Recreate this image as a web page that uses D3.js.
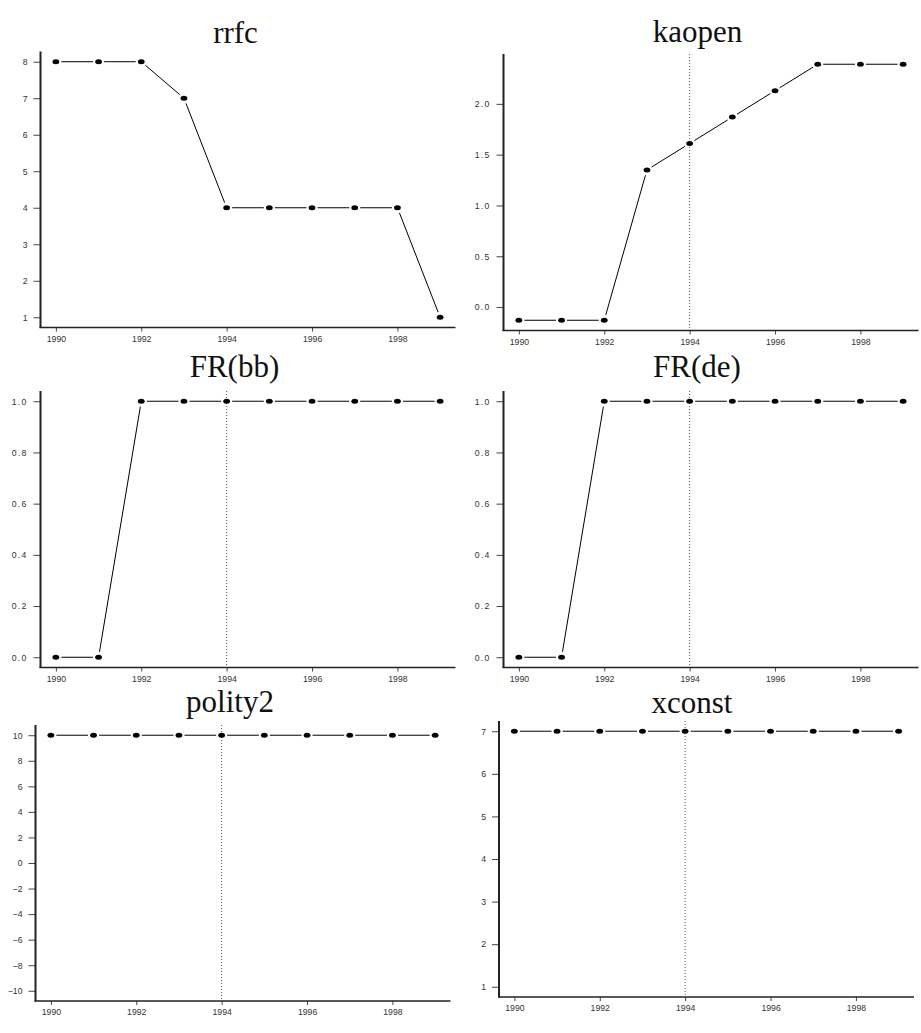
<!DOCTYPE html>
<html>
<head>
<meta charset="utf-8">
<script src="https://cdn.jsdelivr.net/npm/d3@7"></script>
<style>
  html, body { margin: 0; padding: 0; background: #fff; }
  svg { display: block; }
  .title { font-family: "Liberation Serif", "Times New Roman", serif; font-size: 31px; fill: #111; }
  .tick-label { font-family: "Liberation Sans", Arial, sans-serif; font-size: 8.7px; fill: #333; }
</style>
</head>
<body>
<svg id="chart" width="921" height="1033"></svg>
<script>
// Annual series, 1990–1999
const years = [1990, 1991, 1992, 1993, 1994, 1995, 1996, 1997, 1998, 1999];

const rrfc    = [8, 8, 8, 7, 4, 4, 4, 4, 4, 1];
const kaopen  = [-0.13, -0.13, -0.13, 1.35, 1.61, 1.87, 2.13, 2.39, 2.39, 2.39];
const frBB    = [0, 0, 1, 1, 1, 1, 1, 1, 1, 1];
const frDE    = [0, 0, 1, 1, 1, 1, 1, 1, 1, 1];
const polity2 = [10, 10, 10, 10, 10, 10, 10, 10, 10, 10];
const xconst  = [7, 7, 7, 7, 7, 7, 7, 7, 7, 7];

const titles = ["rrfc", "kaopen", "FR(bb)", "FR(de)", "polity2", "xconst"];
const seriesList = [rrfc, kaopen, frBB, frDE, polity2, xconst];

// y-axis limits for each panel
const yLimits = [[1, 8], [-0.13, 2.39], [0, 1], [0, 1], [-10, 10], [1, 7]];

// tick labels
const xTicks = [1990, 1992, 1994, 1996, 1998];
const yTicksList = [
  [1, 2, 3, 4, 5, 6, 7, 8],
  [0, 0.5, 1, 1.5, 2],
  [0, 0.2, 0.4, 0.6, 0.8, 1],
  [0, 0.2, 0.4, 0.6, 0.8, 1],
  [-10, -8, -6, -4, -2, 0, 2, 4, 6, 8, 10],
  [1, 2, 3, 4, 5, 6, 7]
];
const yFormats = ["d", ".1f", ".1f", ".1f", "d", "d"];

// reference year marked by a dotted vertical line (null = none)
const markerYears = [null, 1994, 1994, 1994, 1994, 1994];

// plot regions: [left, top, right, bottom] and title anchor [cx, baseline]
const layout = [
  { box: [40.5, 51.5, 455.5, 327.5], title: [235.5, 43] },
  { box: [503.5, 54, 918.5, 330.5], title: [697.5, 41.5] },
  { box: [40.5, 391, 455.5, 667.5], title: [234.5, 376.5] },
  { box: [503.5, 391, 918.5, 667.5], title: [697, 376.5] },
  { box: [35.5, 725, 450.5, 1001], title: [230, 711.5] },
  { box: [499, 721, 914, 997], title: [692, 712.5] }
];

const svg = d3.select("#chart");
const PAD = 0.04;   // axis range padding fraction
const GAP = 5.5;    // space left between line segments and point markers

seriesList.forEach((values, i) => {
  const [left, top, right, bottom] = layout[i].box;
  const xExt = d3.extent(years);
  const xPad = (xExt[1] - xExt[0]) * PAD;
  const [y0, y1] = yLimits[i];
  const yPad = (y1 - y0) * PAD;

  const x = d3.scaleLinear().domain([xExt[0] - xPad, xExt[1] + xPad]).range([left, right]);
  const y = d3.scaleLinear().domain([y0 - yPad, y1 + yPad]).range([bottom, top]);

  const g = svg.append("g");

  // title
  g.append("text")
    .attr("class", "title")
    .attr("x", layout[i].title[0])
    .attr("y", layout[i].title[1])
    .attr("text-anchor", "middle")
    .text(titles[i]);

  // dotted reference line
  if (markerYears[i] !== null) {
    g.append("line")
      .attr("x1", x(markerYears[i])).attr("x2", x(markerYears[i]))
      .attr("y1", top).attr("y2", bottom)
      .attr("stroke", "#555").attr("stroke-width", 1)
      .attr("stroke-dasharray", "1,2");
  }

  // y axis
  const fmt = d3.format(yFormats[i]);
  const yAxis = d3.axisLeft(y).tickValues(yTicksList[i]).tickSize(7).tickPadding(6)
    .tickFormat(d => fmt(d).replace("-", "\u2212"));
  const yg = g.append("g").attr("transform", `translate(${left},0)`).call(yAxis);
  yg.select(".domain").remove();
  yg.selectAll(".tick line").attr("stroke", "#444").attr("stroke-width", 1);
  yg.selectAll(".tick text").attr("class", "tick-label")
    .style("letter-spacing", yFormats[i] === ".1f" ? "1.2px" : null)
    .attr("fill", null);
  g.append("line")
    .attr("x1", left).attr("x2", left).attr("y1", top).attr("y2", bottom + 0.5)
    .attr("stroke", "#222").attr("stroke-width", 2);

  // x axis
  const xAxis = d3.axisBottom(x).tickValues(xTicks).tickSize(4).tickPadding(4).tickFormat(d3.format("d"));
  const xg = g.append("g").attr("transform", `translate(0,${bottom})`).call(xAxis);
  xg.select(".domain").remove();
  xg.selectAll(".tick line").attr("stroke", "#444").attr("stroke-width", 1);
  xg.selectAll(".tick text").attr("class", "tick-label").attr("fill", null);
  g.append("line")
    .attr("x1", left - 1).attr("x2", right).attr("y1", bottom).attr("y2", bottom)
    .attr("stroke", "#222").attr("stroke-width", 1.5);

  // connecting segments, trimmed around each point
  const pts = years.map((yr, k) => [x(yr), y(values[k])]);
  const segs = d3.pairs(pts).map(([a, b]) => {
    const dx = b[0] - a[0], dy = b[1] - a[1];
    const len = Math.hypot(dx, dy);
    const ux = dx / len, uy = dy / len;
    return [a[0] + ux * GAP, a[1] + uy * GAP, b[0] - ux * GAP, b[1] - uy * GAP];
  });
  g.selectAll(".seg").data(segs).join("line")
    .attr("class", "seg")
    .attr("x1", d => d[0]).attr("y1", d => d[1])
    .attr("x2", d => d[2]).attr("y2", d => d[3])
    .attr("stroke", "#000").attr("stroke-width", 1);

  // point markers
  g.selectAll(".pt").data(years).join("ellipse")
    .attr("class", "pt")
    .attr("cx", (yr) => x(yr))
    .attr("cy", (yr, k) => y(values[k]))
    .attr("rx", 3.4).attr("ry", 2.5)
    .attr("fill", "#000");
});
</script>
</body>
</html>
